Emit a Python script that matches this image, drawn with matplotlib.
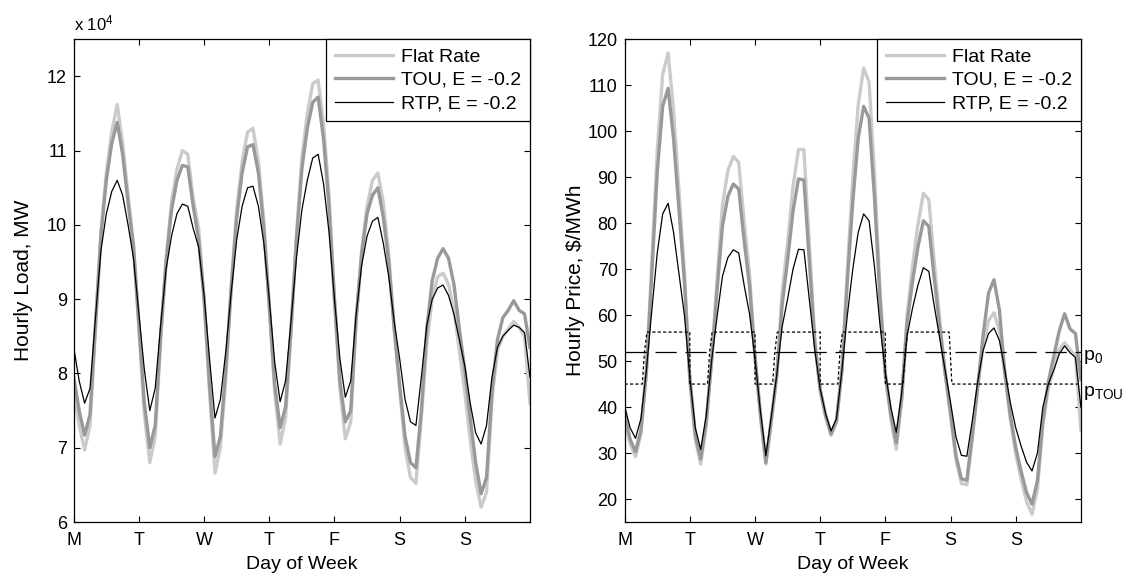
import matplotlib
matplotlib.use("Agg")
import matplotlib.pyplot as plt
import numpy as np

plt.rcParams['font.family'] = ['Liberation Sans', 'DejaVu Sans']
plt.rcParams['mathtext.fontset'] = 'custom'
plt.rcParams['mathtext.rm'] = 'Liberation Sans'
plt.rcParams['mathtext.it'] = 'Liberation Sans:italic'

# hours of the week, sampled every 2 h (Monday 0h .. Sunday 24h)
hours = np.arange(0, 169, 2)
day_ticks = [0, 24, 48, 72, 96, 120, 144]
day_labels = ['M', 'T', 'W', 'T', 'F', 'S', 'S']

# hourly load, x 10^4 MW
load_flat = [7.75, 7.3, 6.97, 7.3, 8.6, 9.9, 10.7, 11.25, 11.62, 11.1, 10.4, 9.75,
             8.6, 7.45, 6.8, 7.15, 8.45, 9.55, 10.3, 10.75, 11.0, 10.95, 10.35, 9.95,
             9.0, 7.75, 6.66, 7.0, 7.95, 9.2, 10.2, 10.85, 11.25, 11.3, 10.85, 10.05,
             8.9, 7.75, 7.05, 7.4, 8.55, 9.85, 10.9, 11.5, 11.9, 11.95, 11.35, 10.4,
             9.0, 7.8, 7.12, 7.35, 8.7, 9.65, 10.25, 10.6, 10.7, 10.3, 9.6, 8.6,
             7.8, 7.0, 6.6, 6.52, 7.4, 8.4, 9.0, 9.3, 9.35, 9.2, 8.85, 8.3,
             7.75, 7.1, 6.55, 6.2, 6.4, 7.65, 8.3, 8.5, 8.6, 8.7, 8.62, 8.5,
             7.6]
load_tou = [7.95, 7.5, 7.17, 7.45, 8.65, 9.85, 10.6, 11.1, 11.38, 10.95, 10.3, 9.7,
            8.65, 7.6, 7.0, 7.3, 8.5, 9.5, 10.2, 10.6, 10.8, 10.78, 10.25, 9.8,
            9.0, 7.85, 6.88, 7.15, 8.05, 9.15, 10.1, 10.7, 11.05, 11.08, 10.7, 9.95,
            8.9, 7.85, 7.27, 7.55, 8.6, 9.8, 10.75, 11.3, 11.65, 11.72, 11.15, 10.25,
            9.0, 7.9, 7.35, 7.5, 8.75, 9.6, 10.15, 10.4, 10.5, 10.1, 9.5, 8.6,
            7.85, 7.15, 6.8, 6.73, 7.5, 8.6, 9.25, 9.55, 9.68, 9.55, 9.2, 8.6,
            8.05, 7.4, 6.8, 6.38, 6.6, 7.75, 8.45, 8.75, 8.85, 8.98, 8.85, 8.8,
            8.35]
load_rtp = [8.35, 7.9, 7.6, 7.8, 8.75, 9.65, 10.15, 10.45, 10.6, 10.4, 10.0, 9.55,
            8.8, 8.05, 7.5, 7.8, 8.65, 9.4, 9.85, 10.15, 10.28, 10.25, 9.95, 9.7,
            9.05, 8.2, 7.4, 7.65, 8.3, 9.1, 9.8, 10.25, 10.5, 10.52, 10.25, 9.75,
            9.0, 8.15, 7.62, 7.9, 8.7, 9.55, 10.2, 10.6, 10.9, 10.95, 10.55, 9.9,
            9.0, 8.2, 7.68, 7.9, 8.8, 9.45, 9.85, 10.05, 10.1, 9.75, 9.3, 8.7,
            8.2, 7.65, 7.35, 7.3, 7.95, 8.65, 9.0, 9.15, 9.19, 9.05, 8.8, 8.45,
            8.1, 7.6, 7.2, 7.05, 7.3, 7.95, 8.35, 8.5, 8.58, 8.65, 8.62, 8.55,
            7.95]

# hourly price, $/MWh
price_flat = [37.8, 32.0, 29.2, 34.2, 47.5, 71.5, 95.8, 112.4, 117.0, 104.6, 87.0, 69.5,
              46.0, 33.0, 27.6, 35.9, 50.0, 67.5, 83.9, 91.4, 94.5, 93.2, 80.4, 68.8,
              51.0, 37.9, 27.6, 36.9, 46.7, 65.2, 75.7, 88.0, 96.0, 96.0, 75.5, 54.8,
              43.6, 37.8, 33.8, 36.7, 47.9, 69.9, 89.8, 105.7, 113.7, 110.7, 90.8, 65.9,
              46.9, 37.6, 30.8, 41.3, 59.9, 70.7, 79.7, 86.5, 85.1, 71.6, 59.0, 47.4,
              38.3, 28.5, 23.4, 23.1, 33.1, 44.2, 53.4, 58.8, 60.5, 56.6, 47.2, 37.5,
              29.8, 24.3, 19.4, 16.7, 22.2, 36.1, 44.0, 48.5, 52.5, 54.0, 52.5, 51.0,
              35.0]
price_tou = [38.5, 33.0, 30.3, 35.0, 47.7, 69.0, 91.0, 105.4, 109.3, 98.4, 82.9, 67.3,
             46.2, 34.0, 28.7, 36.6, 50.0, 65.1, 79.3, 85.8, 88.5, 87.4, 76.2, 66.2,
             50.8, 38.5, 27.9, 37.2, 46.8, 62.2, 72.0, 82.6, 89.6, 89.4, 71.8, 54.1,
             43.8, 38.2, 34.2, 37.1, 47.9, 67.3, 84.6, 98.4, 105.4, 102.8, 85.5, 63.8,
             47.1, 38.5, 32.2, 42.0, 58.3, 67.3, 74.8, 80.5, 79.3, 68.0, 57.5, 47.5,
             38.8, 29.4, 24.4, 24.1, 33.8, 44.4, 55.7, 64.8, 67.7, 61.1, 47.4, 38.3,
             31.2, 26.0, 21.4, 18.9, 24.0, 37.0, 45.5, 51.0, 56.5, 60.3, 57.0, 56.0,
             46.0]
price_rtp = [40.2, 35.5, 33.2, 37.5, 48.0, 61.0, 73.5, 82.0, 84.3, 78.0, 69.0, 60.0,
             46.5, 35.5, 30.8, 38.0, 50.0, 59.5, 68.4, 72.5, 74.2, 73.5, 66.5, 60.2,
             50.5, 39.0, 29.4, 38.0, 47.0, 57.5, 63.5, 70.0, 74.3, 74.2, 63.4, 52.5,
             44.0, 38.5, 34.8, 37.5, 48.0, 60.0, 70.0, 78.0, 82.0, 80.5, 70.5, 58.0,
             47.5, 40.0, 34.5, 43.0, 55.5, 61.5, 66.5, 70.3, 69.5, 62.0, 55.0, 48.0,
             41.0, 33.5, 29.5, 29.3, 37.0, 45.5, 52.3, 56.0, 57.2, 54.5, 48.0, 41.0,
             35.5, 31.5, 28.0, 26.1, 30.0, 40.0, 45.0, 48.0, 51.5, 53.3, 51.8, 50.8,
             40.0]

# flat price p0 and TOU tariff schedule
p0 = 52.0
tou_hours = [0, 6.5, 7.3, 8.2, 24, 24, 30.5, 31.3, 32.2, 48, 48, 54.5, 55.3, 56.2,
             72, 72, 78.5, 79.3, 80.2, 96, 96, 102.5, 103.3, 104.2, 119.5, 120.5, 168]
tou_price = [45, 45, 52, 56.3, 56.3, 45, 45, 52, 56.3, 56.3, 45, 45, 52, 56.3,
             56.3, 45, 45, 52, 56.3, 56.3, 45, 45, 52, 56.3, 56.3, 45, 45]

labels = ['Flat Rate', 'TOU, E = -0.2', 'RTP, E = -0.2']
colors = ['#cbcbcb', '#999999', 'black']
widths = [2.4, 2.4, 0.9]

fs = 13
fig = plt.figure(figsize=(11.31, 5.79), dpi=100)
ax1 = fig.add_axes([0.0652, 0.0984, 0.4034, 0.834])
ax2 = fig.add_axes([0.5523, 0.0984, 0.4034, 0.834])

for ys, c, w, lab in zip([load_flat, load_tou, load_rtp], colors, widths, labels):
    ax1.plot(hours, ys, color=c, lw=w, label=lab)
for ys, c, w, lab in zip([price_flat, price_tou, price_rtp], colors, widths, labels):
    ax2.plot(hours, ys, color=c, lw=w, label=lab)

ax2.axhline(p0, color='black', lw=0.9, dashes=(17, 7))
ax2.plot(tou_hours, tou_price, color='black', lw=0.9, ls=(0, (2.5, 1.8)))
ax2.text(168.8, p0 - 1.2, r'p$_0$', fontsize=fs + 1, va='center', ha='left')
ax2.text(168.8, tou_price[-1] - 2.0, r'p$_{\mathrm{TOU}}$', fontsize=fs + 1, va='center', ha='left')

ax1.set_ylim(6, 12.5)
ax1.set_yticks([6, 7, 8, 9, 10, 11, 12])
ax1.set_yticklabels(['6', '7', '8', '9', '10', '11', '12'])
ax1.set_ylabel('Hourly Load, MW', fontsize=fs + 2, labelpad=10)
ax1.text(0, 1.012, r'x 10$^4$', transform=ax1.transAxes, fontsize=fs - 1, va='bottom', ha='left')

ax2.set_ylim(15, 120)
ax2.set_yticks(range(20, 121, 10))
ax2.set_ylabel('Hourly Price, $/MWh', fontsize=fs + 2, labelpad=2)

for ax in (ax1, ax2):
    ax.set_xlim(0, 168)
    ax.set_xticks(day_ticks)
    ax.set_xticklabels(day_labels)
    ax.set_xlabel('Day of Week', fontsize=fs + 1, labelpad=5)
    ax.tick_params(direction='in', top=True, right=True, length=4, width=0.8,
                   labelsize=fs, pad=5)
    ax.tick_params(axis='x', pad=7)
    for sp in ax.spines.values():
        sp.set_linewidth(0.9)
    leg = ax.legend(loc='upper right', fontsize=fs + 1, frameon=True, fancybox=False,
                    edgecolor='black', framealpha=1, borderaxespad=0,
                    handlelength=3.0, handletextpad=0.4, labelspacing=0.3,
                    borderpad=0.45)
    leg.get_frame().set_linewidth(0.9)

fig.savefig('out.png', dpi=100)
